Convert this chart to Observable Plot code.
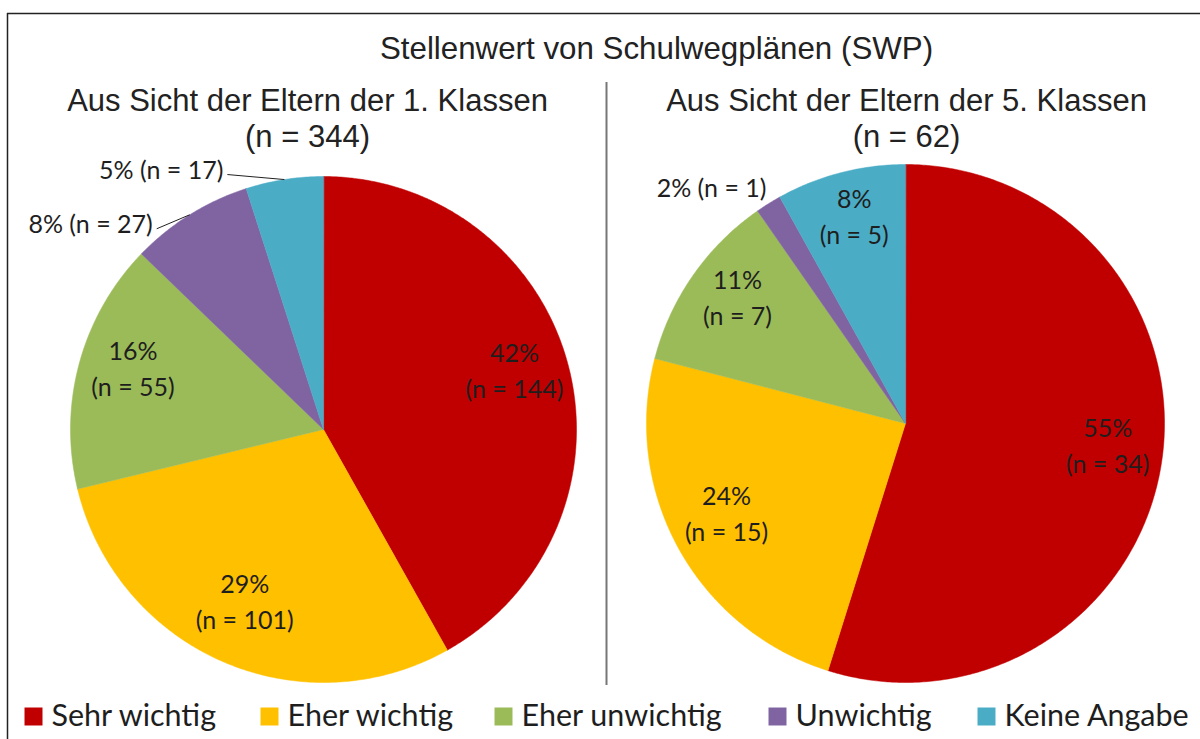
<!DOCTYPE html>
<html>
<head>
<meta charset="utf-8">
<script src="https://cdn.jsdelivr.net/npm/d3@7"></script>
<script src="https://cdn.jsdelivr.net/npm/@observablehq/plot@0.6"></script>
<style>
  html, body { margin: 0; padding: 0; background: #fff; }
  #chart svg { display: block; }
</style>
</head>
<body>
<div id="chart"></div>
<script>
// ---- data ----
const categories = ["Sehr wichtig", "Eher wichtig", "Eher unwichtig", "Unwichtig", "Keine Angabe"];
const counts1 = [144, 101, 55, 27, 17];
const counts5 = [34, 15, 7, 1, 5];
const mainTitle = "Stellenwert von Schulwegplänen (SWP)";
const panelTitles = ["Aus Sicht der Eltern der 1. Klassen", "Aus Sicht der Eltern der 5. Klassen"];

// ---- styles / layout ----
const colors = ["#C00000", "#FFC000", "#9BBB59", "#8064A2", "#4BACC6"];
const W = 1200, H = 739;
const labelFont = "Lato, 'Open Sans', sans-serif";
const titleFont = "'Liberation Sans', Arial, sans-serif";
const pies = [
  {counts: counts1, cx: 323, cy: 429, r: 253, tx: 307, labelR: 0.78,
   outside: {3: {dx: -37, dy: 10, leader: true}, 4: {dx: -61, dy: -9, leader: true}}},
  {counts: counts5, cx: 905, cy: 423, r: 259, tx: 906, labelR: 0.79,
   outside: {3: {dx: -2, dy: -15, leader: false}}}
];
const legendX = [24, 260, 494, 768, 977];
const legendY = 716;
const legendSquare = 18;

// ---- geometry derived from the data ----
const slicePts = [], inLabels = [], outLabels = [], leaders = [], titles = [];
pies.forEach((p, pi) => {
  const total = d3.sum(p.counts);
  let acc = 0;
  p.counts.forEach((v, i) => {
    const a0 = acc / total * 2 * Math.PI;
    acc += v;
    const a1 = acc / total * 2 * Math.PI;
    const key = pi + "-" + i;
    const cat = categories[i];
    slicePts.push({key, cat, x: p.cx, y: p.cy});
    const steps = Math.max(2, Math.ceil((a1 - a0) / (Math.PI / 360)));
    for (let s = 0; s <= steps; ++s) {
      const a = a0 + (a1 - a0) * s / steps;
      slicePts.push({key, cat, x: p.cx + p.r * Math.sin(a), y: p.cy - p.r * Math.cos(a)});
    }
    const am = (a0 + a1) / 2;
    const pct = Math.round(v / total * 100) + "%";
    const nTxt = "(n = " + v + ")";
    const o = p.outside[i];
    if (o) {
      const ex = p.cx + p.r * Math.sin(am), ey = p.cy - p.r * Math.cos(am);
      const lx = ex + o.dx, ly = ey + o.dy;
      outLabels.push({x: lx, y: ly, text: pct + " " + nTxt});
      if (o.leader) leaders.push({x1: ex, y1: ey, x2: lx + 4, y2: ly + 4});
    } else {
      inLabels.push({
        x: p.cx + p.labelR * p.r * Math.sin(am),
        y: p.cy - p.labelR * p.r * Math.cos(am),
        text: pct + "\n" + nTxt
      });
    }
  });
  titles.push({x: p.tx, y: 146, text: panelTitles[pi] + "\n(n = " + total + ")"});
});
const legend = categories.map((c, i) => ({cat: c, x: legendX[i]}));

const chart = Plot.plot({
  width: W, height: H,
  margin: 0,
  x: {domain: [0, W], range: [0, W], axis: null},
  y: {domain: [0, H], range: [0, H], axis: null},
  color: {domain: categories, range: colors},
  style: {background: "#fff"},
  marks: [
    // frame
    Plot.ruleX([7], {y1: 13, y2: H, stroke: "#222", strokeWidth: 1.5}),
    Plot.ruleY([13], {x1: 7, x2: W, stroke: "#222", strokeWidth: 1.5}),
    // divider
    Plot.ruleX([606], {y1: 82, y2: 685, stroke: "#777", strokeWidth: 2}),
    // slices
    Plot.line(slicePts, {x: "x", y: "y", z: "key", fill: "cat", stroke: "cat", strokeWidth: 0.5, curve: "linear-closed"}),
    // leaders
    Plot.link(leaders, {x1: "x1", y1: "y1", x2: "x2", y2: "y2", stroke: "#222", strokeWidth: 1}),
    // labels
    Plot.text(inLabels, {x: "x", y: "y", dy: -11, text: "text", fontFamily: labelFont, fontSize: 25, lineHeight: 1.44, lineAnchor: "middle", fill: "#1e1e1e"}),
    Plot.text(outLabels, {x: "x", y: "y", text: "text", fontFamily: labelFont, fontSize: 25, lineAnchor: "middle", textAnchor: "end", fill: "#1e1e1e"}),
    // titles
    Plot.text([mainTitle], {x: 656, y: 58, text: d => d, fontFamily: titleFont, fontSize: 31.3, lineAnchor: "bottom", fill: "#222"}),
    Plot.text(titles, {x: "x", y: "y", text: "text", fontFamily: titleFont, fontSize: 31, lineHeight: 1.16, lineAnchor: "bottom", fill: "#222"}),
    // legend
    Plot.dot(legend, {x: d => d.x + legendSquare / 2, y: legendY, symbol: "square", r: legendSquare / Math.sqrt(Math.PI), fill: "cat", stroke: null}),
    Plot.text(legend, {x: d => d.x + 27, y: legendY, text: "cat", textAnchor: "start", lineAnchor: "middle", fontFamily: labelFont, fontSize: 30.5, fill: "#1e1e1e"})
  ]
});
document.getElementById("chart").appendChild(chart);
</script>
</body>
</html>
